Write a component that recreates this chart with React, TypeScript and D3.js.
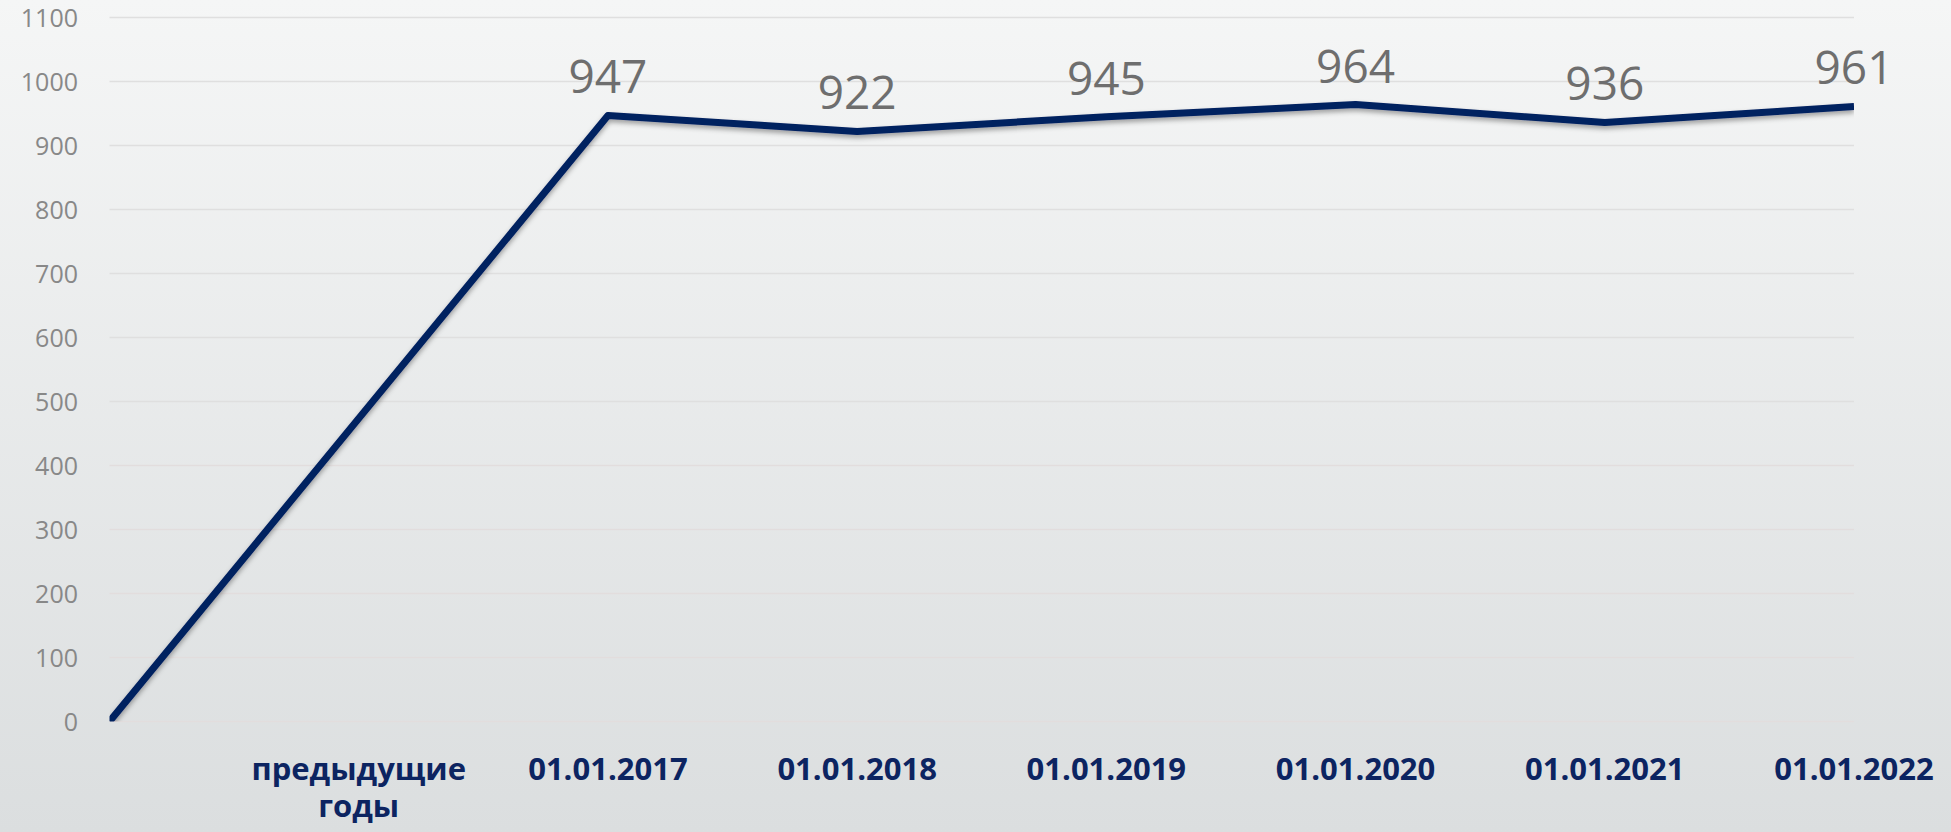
import * as d3 from "d3";
import { useEffect, useRef } from "react";

const categories = [
  "",
  "предыдущие годы",
  "01.01.2017",
  "01.01.2018",
  "01.01.2019",
  "01.01.2020",
  "01.01.2021",
  "01.01.2022",
];
// null = no value for that category, the line just runs through it
const values: (number | null)[] = [0, null, 947, 922, 945, 964, 936, 961];
const yTicks = [0, 100, 200, 300, 400, 500, 600, 700, 800, 900, 1000, 1100];

function App() {
  const ref = useRef<SVGSVGElement>(null);
  const width = 1951;
  const height = 832;
  const left = 109.5;
  const right = 1854;
  const top = 17.5;
  const bottom = 721.5;

  useEffect(() => {
    const svg = d3.select(ref.current);
    svg.selectAll("*").remove();

    const defs = svg.append("defs");
    const grad = defs
      .append("linearGradient")
      .attr("id", "bg")
      .attr("x1", 0)
      .attr("y1", 0)
      .attr("x2", 0)
      .attr("y2", 1);
    grad.append("stop").attr("offset", "0%").attr("stop-color", "#f5f6f6");
    grad.append("stop").attr("offset", "100%").attr("stop-color", "#dbdedf");

    const shadow = defs
      .append("filter")
      .attr("id", "shadow")
      .attr("x", "-5%")
      .attr("y", "-20%")
      .attr("width", "110%")
      .attr("height", "140%");
    shadow
      .append("feDropShadow")
      .attr("dx", 0)
      .attr("dy", 3)
      .attr("stdDeviation", 2.5)
      .attr("flood-color", "#000")
      .attr("flood-opacity", 0.35);

    defs
      .append("clipPath")
      .attr("id", "plot")
      .append("rect")
      .attr("x", left)
      .attr("y", 0)
      .attr("width", right - left)
      .attr("height", bottom);

    svg
      .append("rect")
      .attr("width", width)
      .attr("height", height)
      .attr("fill", "url(#bg)");

    const x = d3
      .scalePoint<number>()
      .domain(categories.map((_, i) => i))
      .range([left, right]);
    const y = d3.scaleLinear().domain([0, 1100]).range([bottom, top]);

    // gridlines
    svg
      .append("g")
      .selectAll("line")
      .data(yTicks)
      .join("line")
      .attr("x1", left)
      .attr("x2", right)
      .attr("y1", (d) => y(d))
      .attr("y2", (d) => y(d))
      .attr("stroke", (d) => (d < 500 ? "#e2dddd" : "#dfdfdf"))
      .attr("stroke-width", 1.5);

    // y axis labels
    svg
      .append("g")
      .selectAll("text")
      .data(yTicks)
      .join("text")
      .attr("x", 78)
      .attr("y", (d) => y(d))
      .attr("dy", "0.36em")
      .attr("text-anchor", "end")
      .attr("font-family", "'Open Sans', sans-serif")
      .attr("font-size", 25)
      .attr("fill", "#888888")
      .text((d) => d);

    // x axis labels
    const xl = svg
      .append("g")
      .selectAll("text")
      .data(categories.map((c, i) => ({ c, i })).filter((d) => d.c !== ""))
      .join("text")
      .attr("text-anchor", "middle")
      .attr("font-family", "'Open Sans', sans-serif")
      .attr("font-weight", 700)
      .attr("font-size", 31)
      .attr("fill", "#0c2461");
    xl.selectAll("tspan")
      .data((d) => d.c.split(" ").map((w, k) => ({ w, k, i: d.i })))
      .join("tspan")
      .attr("x", (d) => x(d.i)!)
      .attr("y", (d) => 780 + d.k * 37)
      .text((d) => d.w);

    const pts = values
      .map((v, i) => ({ v, i }))
      .filter((d) => d.v != null) as { v: number; i: number }[];

    const line = d3
      .line<{ v: number; i: number }>()
      .x((d) => x(d.i)!)
      .y((d) => y(d.v));

    svg
      .append("g")
      .attr("clip-path", "url(#plot)")
      .append("path")
      .attr("d", line(pts))
      .attr("fill", "none")
      .attr("stroke", "#002060")
      .attr("stroke-width", 7)
      .attr("stroke-linejoin", "round")
      .attr("filter", "url(#shadow)");

    // data labels
    svg
      .append("g")
      .selectAll("text")
      .data(pts.filter((d) => d.v > 0))
      .join("text")
      .attr("x", (d) => x(d.i)!)
      .attr("y", (d) => y(d.v) - 22)
      .attr("text-anchor", "middle")
      .attr("font-family", "'Open Sans', sans-serif")
      .attr("font-size", 46)
      .attr("fill", "#6e6e6e")
      .text((d) => d.v);
  }, []);

  return (
    <svg
      ref={ref}
      width={width}
      height={height}
      viewBox={`0 0 ${width} ${height}`}
      style={{ position: "absolute", left: 0, top: 0, display: "block" }}
    />
  );
}

export default App;
